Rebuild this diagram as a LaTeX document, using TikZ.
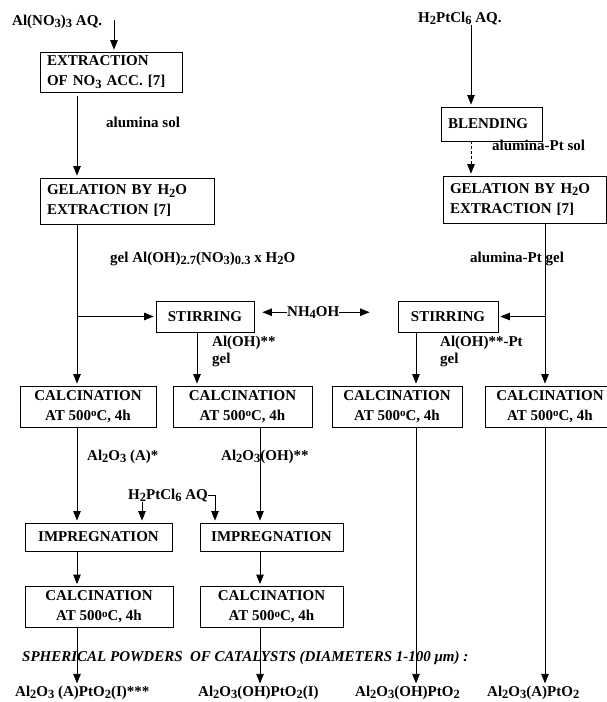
\documentclass[tikz,border=0pt]{standalone}
\usepackage{fontspec}
\setmainfont{Liberation Serif}
\usetikzlibrary{arrows.meta,calc}
\newcommand{\sbs}[1]{\raisebox{-0.35ex}{\fontsize{12.5}{12.5}\selectfont #1}}
\newcommand{\dgo}{\raisebox{0.55ex}{\fontsize{11}{11}\selectfont o}}

\begin{document}
\begin{tikzpicture}[x=1pt, y=-1pt,
    box/.style={draw, line width=0.8pt, inner xsep=7pt, inner ysep=0pt,
                font=\fontsize{15}{20}\selectfont\bfseries},
    lbl/.style={inner sep=0pt, anchor=base west,
                font=\fontsize{15}{17}\selectfont\bfseries},
    flow/.style={line width=0.8pt, shorten >=2pt,
                 -{Triangle[length=9.5pt,width=7.5pt]}}]
        \useasboundingbox (0,0) rectangle (607,702);

        % Column lines
        \coordinate (c1) at (77,0);
        \coordinate (c2) at (197,0);
        \coordinate (c3) at (260,0);
        \coordinate (c4) at (416,0);
        \coordinate (c5) at (545,0);
        \coordinate (cr) at (471,0);
        \coordinate (ci) at (142,0);
        \coordinate (cj) at (215,0);

        % Left branch: Al(NO3)3
        \node[lbl] (alno) at (12,25) {Al(NO\sbs{3})\sbs{3} AQ.};
        \coordinate (t1) at (114,20);
        \node[box, text width=128pt, align=left, minimum height=40pt] (ext) at (111,72)
            {EXTRACTION\\OF NO\sbs{3} ACC. [7]};
        \node[lbl] (sol1) at (106,127) {alumina sol};
        \node[box, text width=160pt, align=left, minimum height=46pt] (gel1) at (127,201)
            {GELATION BY H\sbs{2}O\\EXTRACTION [7]};
        \node[lbl] (gl1) at (110,262) {gel Al(OH)\sbs{2.7}(NO\sbs{3})\sbs{0.3} x H\sbs{2}O};

        % Right branch: H2PtCl6
        \node[lbl] (h2t) at (418,22) {H\sbs{2}PtCl\sbs{6} AQ.};
        \node[box, text width=87pt, align=left, minimum height=34pt] (blend) at (491.5,124)
            {BLENDING};
        \node[lbl] (sol2) at (492,150) {alumina-Pt sol};
        \node[box, text width=149pt, align=left, minimum height=47pt] (gel2) at (524.5,199.5)
            {GELATION BY H\sbs{2}O\\EXTRACTION [7]};
        \node[lbl] (gl2) at (470,262) {alumina-Pt gel};

        % Stirring
        \node[box, minimum width=98pt, minimum height=31pt] (stir1) at (205,316.5) {STIRRING};
        \node[box, minimum width=100pt, minimum height=31pt] (stir2) at (448,316.5) {STIRRING};
        \node[lbl] (nh) at (287,316) {NH\sbs{4}OH};
        \node[lbl, anchor=north west, align=left] (oh1) at (212,336) {Al(OH)**\\gel};
        \node[lbl, anchor=north west, align=left] (oh2) at (440,336) {Al(OH)**-Pt\\gel};

        % Calcination row
        \node[box, align=center, minimum width=136pt, minimum height=41pt] (cal1) at (88,406.5)
            {CALCINATION\\AT 500\dgo C, 4h};
        \node[box, align=center, minimum width=139pt, minimum height=41pt] (cal2) at (242.5,406.5)
            {CALCINATION\\AT 500\dgo C, 4h};
        \node[box, align=center, minimum width=130pt, minimum height=41pt] (cal3) at (397,406.5)
            {CALCINATION\\AT 500\dgo C, 4h};
        \node[box, align=center, minimum width=130pt, minimum height=41pt] (cal4) at (550,406.5)
            {CALCINATION\\AT 500\dgo C, 4h};
        \node[lbl] (ox1) at (87,460) {Al\sbs{2}O\sbs{3} (A)*};
        \node[lbl] (ox2) at (221,460) {Al\sbs{2}O\sbs{3}(OH)**};

        % Impregnation
        \node[lbl] (h2m) at (128,499) {H\sbs{2}PtCl\sbs{6} AQ};
        \node[box, align=center, minimum width=147pt, minimum height=28pt] (imp1) at (98.5,537)
            {IMPREGNATION};
        \node[box, align=center, minimum width=143pt, minimum height=28pt] (imp2) at (271.5,537)
            {IMPREGNATION};
        \node[box, align=center, minimum width=148pt, minimum height=41pt] (calL1) at (99,607)
            {CALCINATION\\AT 500\dgo C, 4h};
        \node[box, align=center, minimum width=143pt, minimum height=41pt] (calL2) at (271.5,607)
            {CALCINATION\\AT 500\dgo C, 4h};

        % Products
        \node[lbl, font=\fontsize{15}{17}\selectfont\bfseries\itshape] (sph) at (22,661)
            {SPHERICAL POWDERS\ \ OF CATALYSTS (DIAMETERS 1-100 μm) :};
        \node[lbl] (p1) at (15,696) {Al\sbs{2}O\sbs{3} (A)PtO\sbs{2}(I)***};
        \node[lbl] (p2) at (198,696) {Al\sbs{2}O\sbs{3}(OH)PtO\sbs{2}(I)};
        \node[lbl] (p3) at (355,696) {Al\sbs{2}O\sbs{3}(OH)PtO\sbs{2}};
        \node[lbl] (p4) at (487,696) {Al\sbs{2}O\sbs{3}(A)PtO\sbs{2}};

        % Connectors, left
        \draw[flow] (t1) -- (ext.north -| t1);
        \draw[flow, shorten <=4pt] (ext.south -| c1) -- (gel1.north -| c1);
        \draw[flow] (gel1.south -| c1) -- (cal1.north -| c1);
        \draw[flow] (c1 |- stir1) -- (stir1.west);
        \draw[flow, shorten >=8pt] (nh.west) -- (nh.west -| stir1.east);
        \draw[flow, shorten >=28pt] (nh.east) -- (nh.east -| stir2.west);
        \draw[flow] (stir1.south -| c2) -- (cal2.north -| c2);

        % Connectors, right
        \draw[flow] (h2t.south -| cr) -- (blend.north -| cr);
        \draw[flow, densely dashed] (blend.south -| cr) -- (gel2.north -| cr);
        \draw[flow] (c5 |- stir2) -- (stir2.east);
        \draw[flow] (gel2.south -| c5) -- (cal4.north -| c5);
        \draw[flow] (stir2.south -| c4) -- (cal3.north -| c4);

        % Impregnation and products
        \draw[flow] (cal1.south -| c1) -- (imp1.north -| c1);
        \draw[flow] (cal2.south -| c3) -- (imp2.north -| c3);
        \draw[flow] (h2m.south -| ci) -- (imp1.north -| ci);
        \draw[flow] (h2m.east) -| (imp2.north -| cj);
        \draw[flow] (imp1.south -| c1) -- (calL1.north -| c1);
        \draw[flow] (imp2.south -| c3) -- (calL2.north -| c3);
        \draw[flow] (calL1.south -| c1) -- (p1.north -| c1);
        \draw[flow] (calL2.south -| c3) -- (p2.north -| c3);
        \draw[flow] (cal3.south -| c4) -- (p3.north -| c4);
        \draw[flow] (cal4.south -| c5) -- (p4.north -| c5);

    \end{tikzpicture}
\end{document}
